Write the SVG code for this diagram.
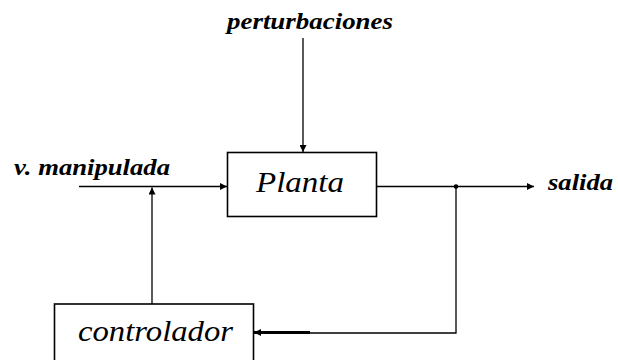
<svg xmlns="http://www.w3.org/2000/svg" width="618" height="360" viewBox="0 0 618 360">
<style>
.box{fill:#fff;stroke:#000;stroke-width:1.6}
.ln{fill:none;stroke:#000;stroke-width:1.3}
.lbl{font-weight:bold;font-style:italic;font-size:24px;fill:#000}
.nm{font-style:italic;font-size:29px;fill:#000}
</style>
<defs>
<marker id="ah" viewBox="0 0 10 10" refX="10" refY="5" markerWidth="8" markerHeight="7" markerUnits="userSpaceOnUse" orient="auto">
<path d="M0,0 L10,5 L0,10 z" fill="#000"/>
</marker>
</defs>
<rect width="618" height="360" fill="#fff"/>
<g id="connectors">
<line class="ln" x1="303" y1="38" x2="303" y2="152" marker-end="url(#ah)"/>
<line class="ln" x1="79" y1="186.5" x2="227" y2="186.5" marker-end="url(#ah)"/>
<line class="ln" x1="152" y1="304" x2="152" y2="187.5" marker-end="url(#ah)"/>
<line class="ln" x1="377" y1="186.5" x2="534" y2="186.5" marker-end="url(#ah)"/>
<circle cx="456" cy="186.5" r="2.3" fill="#000"/>
<polyline class="ln" points="456,186.5 456,333 300,333"/>
<line x1="310" y1="332.5" x2="254" y2="332.5" stroke="#000" stroke-width="3" marker-end="url(#ah)"/>
</g>
<g id="perturbaciones"><text class="lbl" font-family="Liberation Serif, Times New Roman, Noto Serif, serif" x="227" y="29" textLength="166" lengthAdjust="spacingAndGlyphs">perturbaciones</text></g>
<g id="v_manipulada"><text class="lbl" font-family="Liberation Serif, Times New Roman, Noto Serif, serif" x="14" y="174.5" textLength="156" lengthAdjust="spacingAndGlyphs">v. manipulada</text></g>
<g id="salida"><text class="lbl" font-family="Liberation Serif, Times New Roman, Noto Serif, serif" x="548" y="190" textLength="65" lengthAdjust="spacingAndGlyphs">salida</text></g>
<g id="planta">
<rect class="box" x="227.5" y="152.5" width="149" height="64"/>
<text class="nm" font-family="Liberation Serif, Times New Roman, Noto Serif, serif" x="256" y="192" textLength="88" lengthAdjust="spacingAndGlyphs">Planta</text>
</g>
<g id="controlador">
<rect class="box" x="54.5" y="304" width="199" height="70"/>
<text class="nm" font-family="Liberation Serif, Times New Roman, Noto Serif, serif" x="78" y="340.5" textLength="155" lengthAdjust="spacingAndGlyphs">controlador</text>
</g>
</svg>
